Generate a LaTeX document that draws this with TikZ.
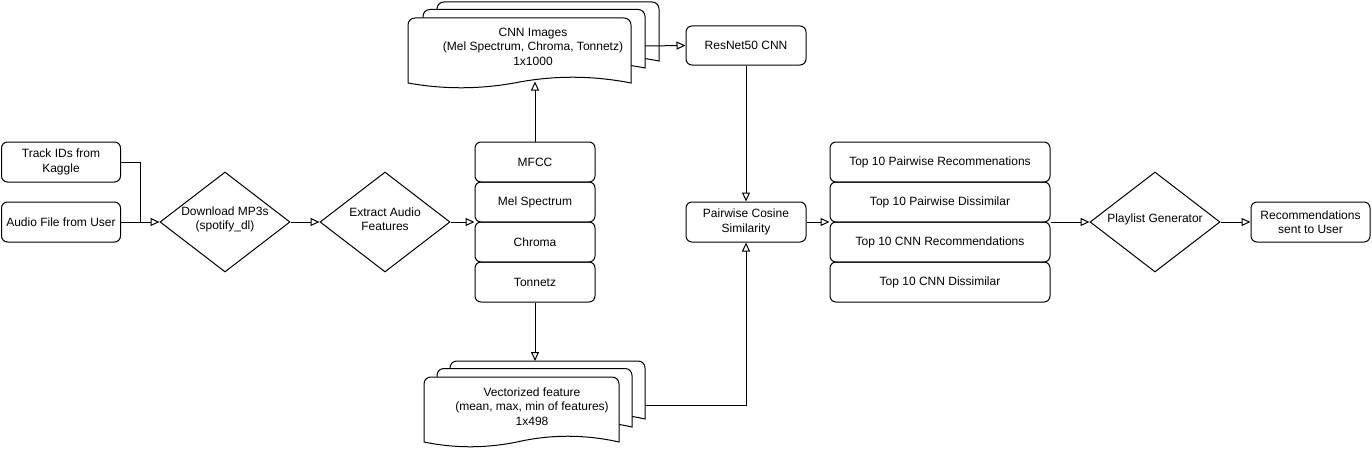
\documentclass[tikz,border=0pt]{standalone}
\usepackage{fontspec}
\setmainfont{Liberation Sans}
\usetikzlibrary{arrows.meta,shapes.geometric}
\newcommand{\fs}{\fontsize{12}{14.4}\selectfont}
\newcommand{\mydoc}[4]{%
  \pgfmathsetmacro\dw{#3-#1}%
  \pgfmathsetmacro\dm{(#1+#3)/2}%
  \filldraw[docline] (#1,#4) -- (#1,#2+7) .. controls (#1,#2+3) and (#1+3,#2) .. (#1+7,#2)
    -- (#3-7,#2) .. controls (#3-3,#2) and (#3,#2+3) .. (#3,#2+7) -- (#3,#4)
    .. controls ({#3-\dw/6},{#4-7.3}) and ({\dm+\dw/6},{#4-7.7}) .. ({\dm},{#4-1})
    .. controls ({\dm-\dw/6},{#4+6.3}) and ({#1+\dw/6},{#4+6.7}) .. (#1,#4) -- cycle;}
\begin{document}
\begin{tikzpicture}[x=1pt,y=-1pt,line width=1pt,
  every node/.style={font=\fs,align=center},
  box/.style={draw,rounded corners=6,minimum width=119,minimum height=40,inner sep=0},
  wbox/.style={box,minimum width=220},
  dia/.style={draw,diamond,minimum width=130,minimum height=100,inner sep=0},
  docline/.style={draw=black,fill=white},
  arr/.style={-{Triangle[open,length=9pt,width=8pt]}}]
\useasboundingbox (0,0) rectangle (1372,452);

% documents
\mydoc{437}{2}{659}{61}
\mydoc{423}{9.5}{645}{68}
\mydoc{408}{18}{631}{83}
\node (cnntxt) at (533,46.5) {CNN Images\\ (Mel Spectrum, Chroma, Tonnetz)\\1x1000};
\coordinate (cnnb) at (535,81.5);
\coordinate (cnnr) at (645,46);

\mydoc{450}{361}{645}{419}
\mydoc{437}{368.5}{632}{427}
\mydoc{424}{377}{619}{442}
\node (vectxt) at (532,406.5) {Vectorized feature\\ (mean, max, min of features)\\1x498};
\coordinate (vect) at (535,361);
\coordinate (vecr) at (645,405);

% boxes
\node[box] (tid) at (61,162) {Track IDs from\\Kaggle};
\node[box] (afu) at (61,222) {Audio File from User};
\coordinate (jn) at (140,222);

\node[dia] (dl) at (225,222) {};
\node at (225,219.5) {Download MP3s\\(spotify\_dl)};
\node[dia] (ex) at (385,222) {};
\node at (385,219.5) {Extract Audio\\Features};

\node[box,minimum width=120] (mfcc) at (535,162) {MFCC};
\node[box,minimum width=120] (mel) at (535,202) {Mel Spectrum};
\node[box,minimum width=120] (chr) at (535,242) {Chroma};
\node[box,minimum width=120] (ton) at (535,282) {Tonnetz};

\node[box,minimum width=120,minimum height=39] (res) at (746,45.5) {ResNet50 CNN};
\node[box,minimum width=120] (pcs) at (746,222) {Pairwise Cosine\\Similarity};

\node[wbox] (r1) at (940,162) {Top 10 Pairwise Recommenations};
\node[wbox] (r2) at (940,202) {Top 10 Pairwise Dissimilar};
\node[wbox] (r3) at (940,242) {Top 10 CNN Recommendations};
\node[wbox] (r4) at (940,282) {Top 10 CNN Dissimilar};

\node[dia] (pg) at (1155,222) {};
\node at (1155,219) {Playlist Generator};
\node[box] (rec) at (1310.5,222) {Recommendations\\sent to User};

% connectors
\draw (tid.east) -| (jn);
\draw[arr] (afu.east) -- (dl.west);
\draw[arr] (dl.east) -- (ex.west);
\draw[arr] (ex.east) -- (ex.east -| mel.west);
\draw[arr] (mfcc.north) -- (cnnb);
\draw[arr] (ton.south) -- (vect);
\draw[arr] (cnnr) -- (res.west);
\draw[arr] (res.south) -- (pcs.north);
\draw[arr] (vecr) -| (pcs.south);
\draw[arr] (pcs.east) -- (pcs.east -| r1.west);
\draw[arr] (pg.west -| r2.east) -- (pg.west);
\draw[arr] (pg.east) -- (rec.west);
\end{tikzpicture}
\end{document}
